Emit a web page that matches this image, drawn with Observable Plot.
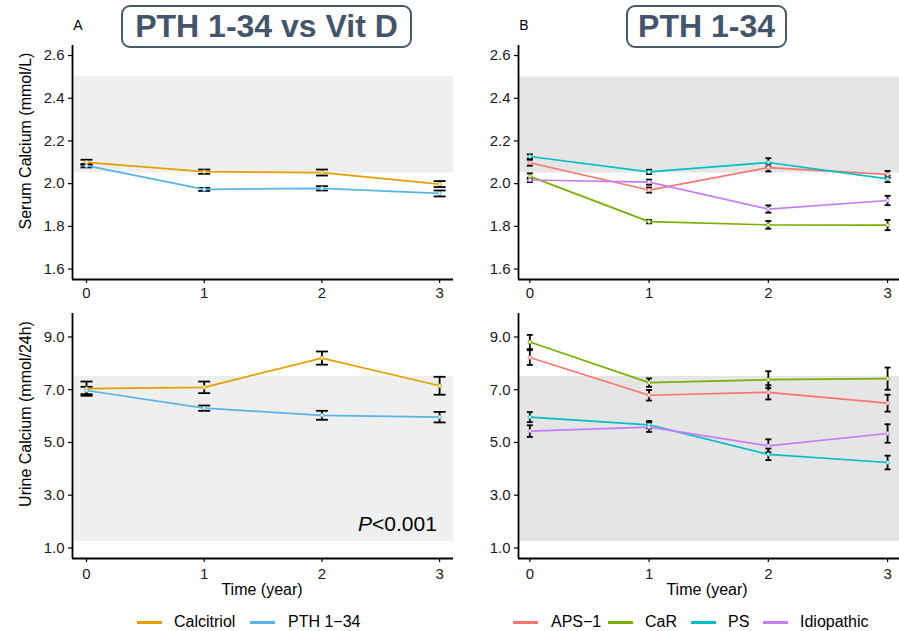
<!DOCTYPE html>
<html><head><meta charset="utf-8">
<script src="https://cdn.jsdelivr.net/npm/d3@7"></script>
<script src="https://cdn.jsdelivr.net/npm/@observablehq/plot@0.6"></script>
<style>
body{margin:0;background:#fff;}
#chart{position:relative;width:899px;height:631px;font-family:"Liberation Sans",Arial,Helvetica,sans-serif;color:#000;overflow:hidden;background:#fff;}
.abs{position:absolute;white-space:nowrap;line-height:1;}
.c{transform:translate(-50%,-50%);}
.title{position:absolute;box-sizing:border-box;border:2px solid #4B596D;border-radius:9px;background:#fff;display:flex;align-items:center;justify-content:center;font-weight:bold;font-size:32px;color:#44546A;}
.sw{position:absolute;height:2.5px;}
.lg{position:absolute;font-size:16px;transform:translateY(-50%);white-space:nowrap;line-height:1;}
</style></head><body><div id="chart"></div>
<script>
// ---------- data ----------
const years = [0, 1, 2, 3];

const groupsA = ["Calcitriol", "PTH 1−34"];
const colorsA = ["#E69F00", "#56B4E9"];
const groupsB = ["APS−1", "CaR", "PS", "Idiopathic"];
const colorsB = ["#F8766D", "#7CAE00", "#00BFC4", "#C77CFF"];

// Panel A – serum calcium (mmol/L)
const serumCalcitriol    = [2.100, 2.056, 2.052, 1.998];
const serumCalcitriolErr = [0.012, 0.010, 0.014, 0.014];
const serumPTH           = [2.084, 1.973, 1.978, 1.954];
const serumPTHErr        = [0.008, 0.007, 0.010, 0.014];

// Panel B – serum calcium (mmol/L)
const serumAPS1     = [2.098, 1.970, 2.075, 2.043];
const serumAPS1Err  = [0.014, 0.012, 0.018, 0.016];
const serumCaR      = [2.034, 1.822, 1.807, 1.806];
const serumCaRErr   = [0.014, 0.008, 0.018, 0.024];
const serumPS       = [2.127, 2.055, 2.099, 2.022];
const serumPSErr    = [0.010, 0.010, 0.020, 0.015];
const serumIdio     = [2.017, 2.007, 1.881, 1.921];
const serumIdioErr  = [0.010, 0.012, 0.017, 0.022];

// Panel A – urine calcium (mmol/24h)
const urineCalcitriol    = [7.04, 7.09, 8.20, 7.15];
const urineCalcitriolErr = [0.27, 0.22, 0.25, 0.34];
const urinePTH           = [6.97, 6.30, 6.03, 5.96];
const urinePTHErr        = [0.14, 0.10, 0.17, 0.20];

// Panel B – urine calcium (mmol/24h)
const urineAPS1    = [8.22, 6.79, 6.90, 6.49];
const urineAPS1Err = [0.28, 0.20, 0.27, 0.32];
const urineCaR     = [8.81, 7.27, 7.38, 7.42];
const urineCaRErr  = [0.27, 0.16, 0.32, 0.42];
const urinePS      = [5.96, 5.67, 4.55, 4.24];
const urinePSErr   = [0.19, 0.14, 0.22, 0.26];
const urineIdio    = [5.43, 5.58, 4.87, 5.34];
const urineIdioErr = [0.22, 0.18, 0.25, 0.35];

// reference ranges
const serumRange = [2.05, 2.5];
const urineRange = [1.25, 7.5];

const serumTicks = [1.6, 1.8, 2.0, 2.2, 2.4, 2.6];
const urineTicks = [1, 3, 5, 7, 9];

// ---------- build ----------
function rows(groups, means, errs) {
  const out = [];
  groups.forEach((g, i) => years.forEach((yr, j) => {
    out.push({group: g, year: yr, mean: means[i][j], lo: means[i][j] - errs[i][j], hi: means[i][j] + errs[i][j]});
  }));
  return out;
}
const dataSerumA = rows(groupsA, [serumCalcitriol, serumPTH], [serumCalcitriolErr, serumPTHErr]);
const dataSerumB = rows(groupsB, [serumAPS1, serumCaR, serumPS, serumIdio], [serumAPS1Err, serumCaRErr, serumPSErr, serumIdioErr]);
const dataUrineA = rows(groupsA, [urineCalcitriol, urinePTH], [urineCalcitriolErr, urinePTHErr]);
const dataUrineB = rows(groupsB, [urineAPS1, urineCaR, urinePS, urineIdio], [urineAPS1Err, urineCaRErr, urinePSErr, urineIdioErr]);

const capSymbol = {draw(ctx, size) { const r = Math.sqrt(size / Math.PI); ctx.moveTo(-r, 0); ctx.lineTo(r, 0); }};

function panel(o) {
  const svg = Plot.plot({
    width: o.width, height: o.height,
    marginLeft: o.ml, marginRight: o.mr, marginTop: o.mt, marginBottom: o.mb,
    style: {background: "transparent", overflow: "visible", fontFamily: "'Liberation Sans', Arial, sans-serif", fontSize: "15px", color: "#1a1a1a"},
    x: {domain: o.xDomain},
    y: {domain: o.yDomain},
    color: {domain: o.groups, range: o.colors},
    marks: [
      Plot.rect([o.band], {x1: () => o.xDomain[0], x2: () => o.xDomain[1], y1: d => d[0], y2: d => d[1], fill: o.bandFill}),
      Plot.axisX(years, {tickSize: 4, tickPadding: o.xPad, fontSize: 15, label: null, stroke: "black", strokeWidth: 1.2, tickFormat: d => String(d)}),
      Plot.axisY(o.yTicks, {tickSize: 4, tickPadding: 4, fontSize: 15, label: null, stroke: "black", strokeWidth: 1.2, tickFormat: d3.format(".1f")}),
      Plot.ruleX([o.xDomain[0]], {stroke: "black", strokeWidth: 1.8}),
      Plot.ruleY([o.yDomain[0]], {stroke: "black", strokeWidth: 1.8}),
      Plot.ruleX(o.data, {x: "year", y1: "lo", y2: "hi", stroke: "black", strokeWidth: 1.8}),
      Plot.dot(o.data, {x: "year", y: "lo", symbol: capSymbol, r: o.capR, stroke: "black", strokeWidth: 1.8, fill: "none"}),
      Plot.dot(o.data, {x: "year", y: "hi", symbol: capSymbol, r: o.capR, stroke: "black", strokeWidth: 1.8, fill: "none"}),
      Plot.line(o.data, {x: "year", y: "mean", z: "group", stroke: "group", strokeWidth: 1.7}),
      Plot.dot(o.data, {x: "year", y: "mean", stroke: "group", fill: "white", r: 1.8, strokeWidth: 1})
    ]
  });
  svg.style.position = "absolute";
  svg.style.left = o.left + "px";
  svg.style.top = o.top + "px";
  return svg;
}

const chart = document.getElementById("chart");
const xA = [-0.119, 3.118], xB = [-0.095, 3.1];
const ySerum = [1.551, 2.647], yUrine = [0.6, 9.89];

chart.appendChild(panel({data: dataSerumA, groups: groupsA, colors: colorsA, xDomain: xA, yDomain: ySerum, yTicks: serumTicks, band: serumRange, bandFill: "#EFEFEF",
  width: 460, height: 300, ml: 72, mr: 7, mt: 45, mb: 21, left: 0, top: 0, capR: 6, xPad: 4}));
chart.appendChild(panel({data: dataSerumB, groups: groupsB, colors: colorsB, xDomain: xB, yDomain: ySerum, yTicks: serumTicks, band: serumRange, bandFill: "#E5E5E5",
  width: 459, height: 300, ml: 78, mr: 0, mt: 45, mb: 21, left: 440, top: 0, capR: 3, xPad: 4}));
chart.appendChild(panel({data: dataUrineA, groups: groupsA, colors: colorsA, xDomain: xA, yDomain: yUrine, yTicks: urineTicks, band: urineRange, bandFill: "#EFEFEF",
  width: 460, height: 290, ml: 72, mr: 7, mt: 13, mb: 32, left: 0, top: 300, capR: 6, xPad: 6}));
chart.appendChild(panel({data: dataUrineB, groups: groupsB, colors: colorsB, xDomain: xB, yDomain: yUrine, yTicks: urineTicks, band: urineRange, bandFill: "#E5E5E5",
  width: 459, height: 290, ml: 78, mr: 0, mt: 13, mb: 32, left: 440, top: 300, capR: 3, xPad: 6}));

// ---------- text overlays ----------
function addText(html, style, cls) {
  const d = document.createElement("div");
  d.className = cls || "abs";
  d.innerHTML = html;
  Object.assign(d.style, style);
  chart.appendChild(d);
  return d;
}
addText("PTH 1-34 vs Vit D", {left: "121px", top: "5px", width: "291px", height: "43px"}, "title");
addText("PTH 1-34", {left: "626px", top: "5px", width: "161px", height: "43px"}, "title");
addText("A", {left: "78px", top: "25px", fontSize: "14px"}, "abs c");
addText("B", {left: "524px", top: "25px", fontSize: "14px"}, "abs c");
addText("Serum Calcium (mmol/L)", {left: "26px", top: "141px", fontSize: "16px", transform: "translate(-50%,-50%) rotate(-90deg)"}, "abs");
addText("Urine Calcium (mmol/24h)", {left: "26px", top: "414px", fontSize: "16px", transform: "translate(-50%,-50%) rotate(-90deg)"}, "abs");
addText("Time (year)", {left: "262px", top: "590px", fontSize: "16px"}, "abs c");
addText("Time (year)", {left: "707px", top: "590px", fontSize: "16px"}, "abs c");
addText("<i>P</i>&lt;0.001", {left: "358px", top: "513px", fontSize: "21px"}, "abs");

// legends
const legendA = [[137, 174], [250, 288]];
const legendB = [[513, 551], [608, 645], [691, 728], [763, 800]];
function legend(groups, colors, pos) {
  groups.forEach((g, i) => {
    const sw = document.createElement("div");
    sw.className = "sw";
    Object.assign(sw.style, {left: pos[i][0] + "px", top: "621px", width: "25px", background: colors[i]});
    chart.appendChild(sw);
    addText(g, {left: pos[i][1] + "px", top: "622px"}, "lg");
  });
}
legend(groupsA, colorsA, legendA);
legend(groupsB, colorsB, legendB);
</script>
</body></html>
